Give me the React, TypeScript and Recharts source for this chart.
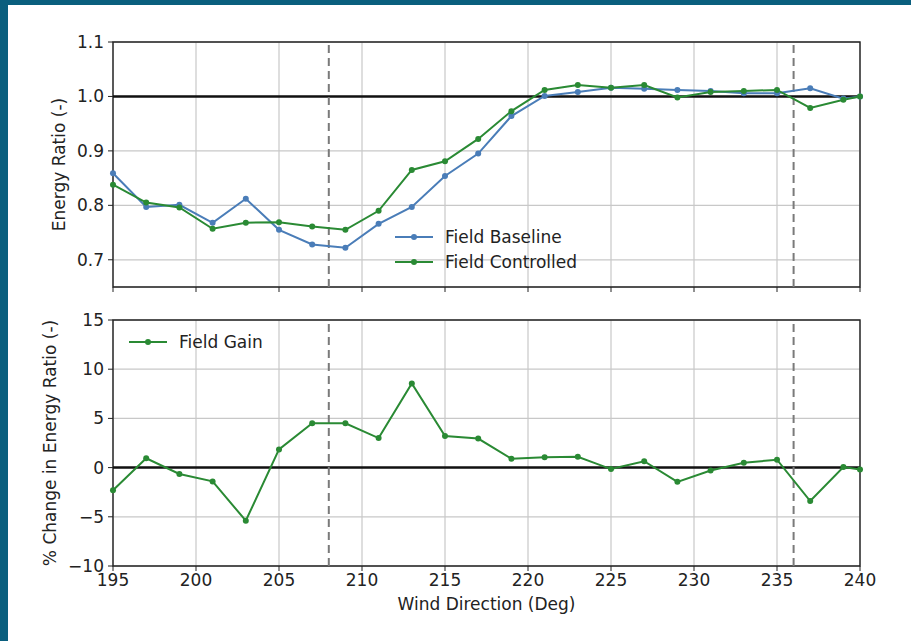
import React from "react";
import {
  LineChart, Line, XAxis, YAxis, CartesianGrid, ReferenceLine, ReferenceArea, Legend, Label,
} from "recharts";

const windDir = [195, 197, 199, 201, 203, 205, 207, 209, 211, 213, 215, 217, 219, 221, 223, 225, 227, 229, 231, 233, 235, 237, 239, 240];
const fieldBaseline = [0.859, 0.797, 0.801, 0.768, 0.812, 0.755, 0.728, 0.722, 0.766, 0.797, 0.854, 0.895, 0.964, 1.001, 1.008, 1.016, 1.014, 1.012, 1.010, 1.006, 1.006, 1.015, 0.996, 1.0];
const fieldControlled = [0.838, 0.805, 0.796, 0.757, 0.768, 0.769, 0.761, 0.755, 0.790, 0.865, 0.881, 0.922, 0.973, 1.012, 1.021, 1.016, 1.021, 0.998, 1.008, 1.010, 1.012, 0.979, 0.994, 1.0];
const fieldGain = [-2.3, 0.95, -0.65, -1.4, -5.4, 1.85, 4.5, 4.5, 3.0, 8.55, 3.2, 2.95, 0.9, 1.05, 1.1, -0.15, 0.65, -1.45, -0.3, 0.5, 0.8, -3.4, 0.05, -0.2];

const xTicks = [195, 200, 205, 210, 215, 220, 225, 230, 235, 240];
const ratioTicks = [0.7, 0.8, 0.9, 1.0, 1.1];
const gainTicks = [-10, -5, 0, 5, 10, 15];
const sectorEdges = [208, 236];

const BLUE = "#4a7db8";
const GREEN = "#2a8a34";
const INK = "#222";
const GRID = "#c8c8c8";
const TEAL = "#0a5f7e";

const ratioRows = windDir.map((d, i) => ({ dir: d, baseline: fieldBaseline[i], controlled: fieldControlled[i] }));
const gainRows = windDir.map((d, i) => ({ dir: d, gain: fieldGain[i] }));

const minus = (v: number) => (v < 0 ? `\u2212${-v}` : String(v));

function renderLegend(props: any) {
  const items = props.payload || [];
  return (
    <div>
      {items.map((p: any) => (
        <div key={p.value} style={{ display: "flex", alignItems: "center", height: 25 }}>
          <svg width={38} height={10}>
            <line x1={0} y1={5} x2={38} y2={5} stroke={p.color} strokeWidth={2.2} />
            <circle cx={19} cy={5} r={3} fill={p.color} />
          </svg>
          <span style={{ marginLeft: 12, fontSize: 17, color: INK }}>{p.value}</span>
        </div>
      ))}
    </div>
  );
}

const vLabel = (text: string, cx: number, cy: number) => () => (
  <text x={cx} y={cy} transform={`rotate(-90, ${cx}, ${cy})`} textAnchor="middle"
    dominantBaseline="central" fontSize={17} fill={INK}>{text}</text>
);

const tickStyle = { fontSize: 17, fill: INK };

export default function App() {
  return (
    <div style={{ position: "absolute", left: 0, top: 0, width: 911, height: 641, background: "#fff", fontFamily: "'DejaVu Sans', sans-serif", overflow: "hidden" }}>
      <div style={{ position: "absolute", left: 0, top: 0, width: 911, height: 5, background: TEAL }} />
      <div style={{ position: "absolute", left: 0, top: 0, width: 8, height: 641, background: TEAL }} />

      <div style={{ position: "absolute", left: 0, top: 0 }}>
        <LineChart width={911} height={300} data={ratioRows} margin={{ top: 42, right: 51, left: 0, bottom: 0 }}>
          <CartesianGrid stroke={GRID} strokeWidth={1.2} />
          <XAxis dataKey="dir" type="number" domain={[195, 240]} ticks={xTicks} height={13}
            tickSize={5} tickFormatter={() => ""} axisLine={false} tickLine={{ stroke: INK }} />
          <YAxis type="number" domain={[0.65, 1.1]} ticks={ratioTicks} allowDataOverflow width={113}
            tickSize={5} tickMargin={4} tick={tickStyle} tickLine={{ stroke: INK }} axisLine={false}
            tickFormatter={(v: number) => v.toFixed(1)}>
            <Label content={vLabel("Energy Ratio (-)", 59, 164.5)} />
          </YAxis>
          <ReferenceArea x1={195} x2={240} y1={0.65} y2={1.1} fill="none" fillOpacity={0} stroke={INK} strokeWidth={1.4} />
          <ReferenceLine y={1.0} stroke="#111" strokeWidth={2.5} />
          {sectorEdges.map(x => (
            <ReferenceLine key={x} x={x} stroke="#7a7a7a" strokeWidth={2} strokeDasharray="8 5" />
          ))}
          <Line type="linear" dataKey="baseline" name="Field Baseline" stroke={BLUE} strokeWidth={2}
            dot={{ r: 3, fill: BLUE, stroke: BLUE, strokeWidth: 0 }} activeDot={false} isAnimationActive={false} />
          <Line type="linear" dataKey="controlled" name="Field Controlled" stroke={GREEN} strokeWidth={2}
            dot={{ r: 3, fill: GREEN, stroke: GREEN, strokeWidth: 0 }} activeDot={false} isAnimationActive={false} />
          <Legend layout="vertical" align="center" verticalAlign="middle" content={renderLegend}
            wrapperStyle={{ left: 395, top: 224.5, width: 220 }} />
        </LineChart>
      </div>

      <div style={{ position: "absolute", left: 0, top: 300 }}>
        <LineChart width={911} height={341} data={gainRows} margin={{ top: 20, right: 51, left: 0, bottom: 30 }}>
          <CartesianGrid stroke={GRID} strokeWidth={1.2} />
          <XAxis dataKey="dir" type="number" domain={[195, 240]} ticks={xTicks} height={45}
            tickSize={5} tickMargin={3} tick={tickStyle} tickLine={{ stroke: INK }} axisLine={false}>
            <Label value="Wind Direction (Deg)" position="insideBottom" offset={1} fontSize={17} fill={INK} />
          </XAxis>
          <YAxis type="number" domain={[-10, 15]} ticks={gainTicks} allowDataOverflow width={113}
            tickSize={5} tickMargin={4} tick={tickStyle} tickLine={{ stroke: INK }} axisLine={false}
            tickFormatter={minus}>
            <Label content={vLabel("% Change in Energy Ratio (-)", 50, 143)} />
          </YAxis>
          <ReferenceArea x1={195} x2={240} y1={-10} y2={15} fill="none" fillOpacity={0} stroke={INK} strokeWidth={1.4} />
          <ReferenceLine y={0} stroke="#111" strokeWidth={2.5} />
          {sectorEdges.map(x => (
            <ReferenceLine key={x} x={x} stroke="#7a7a7a" strokeWidth={2} strokeDasharray="8 5" />
          ))}
          <Line type="linear" dataKey="gain" name="Field Gain" stroke={GREEN} strokeWidth={2}
            dot={{ r: 3, fill: GREEN, stroke: GREEN, strokeWidth: 0 }} activeDot={false} isAnimationActive={false} />
          <Legend layout="vertical" align="center" verticalAlign="middle" content={renderLegend}
            wrapperStyle={{ left: 129, top: 29.5, width: 200 }} />
        </LineChart>
      </div>
    </div>
  );
}
